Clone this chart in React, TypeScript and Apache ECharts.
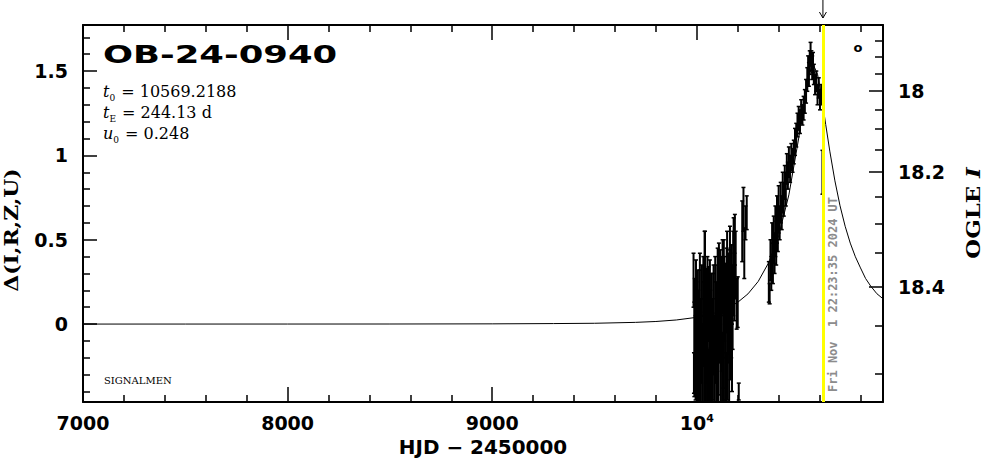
import React, { useEffect, useRef } from 'react';
import * as echarts from 'echarts';

// ---- axis ranges & ticks ----
const xMin = 7000;
const xMax = 10910;
const yMin = -0.462;
const yMax = 1.773;
const xLabelValues = [7000, 8000, 9000, 10000];
const deltaMajorTicks = [0, 0.5, 1, 1.5];
const deltaMinorTicks = [-0.4, -0.3, -0.2, -0.1, 0.1, 0.2, 0.3, 0.4, 0.6, 0.7, 0.8, 0.9, 1.1, 1.2, 1.3, 1.4, 1.6, 1.7];
const magMajorTicks = [18, 18.2, 18.4];
const magMinorTicks = [17.85, 17.9, 17.95, 18.05, 18.1, 18.15, 18.25, 18.3, 18.35, 18.45, 18.5];
// I = magRef - 2.5 log10(fluxSlope * 10^(0.4 Δ) + fluxBlend)
const magRef = 18;
const fluxSlope = 0.1313;
const fluxBlend = 0.5309;

// ---- texts ----
const eventName = 'OB-24-0940';
const t0Text = '10569.2188';
const tEText = '244.13 d';
const u0Text = '0.248';
const nowHJD = 10616.43;
const nowLabel = 'Fri Nov  1 22:23:35 2024 UT';

// ---- model curve (HJD-2450000, Δ) ----
const modelT = [7000, 7500, 8000, 8500, 9000, 9300, 9500, 9700, 9800, 9900, 10000, 10050, 10100, 10150, 10200, 10250, 10300, 10350, 10400, 10450, 10500, 10530, 10550, 10569, 10590, 10610, 10630, 10650, 10675, 10700, 10725, 10750, 10775, 10800, 10825, 10850, 10880, 10910];
const modelD = [0.0, 0.0001, 0.0002, 0.0004, 0.0013, 0.003, 0.0047, 0.0101, 0.0153, 0.0243, 0.04, 0.0526, 0.0699, 0.0941, 0.129, 0.179, 0.2526, 0.3616, 0.524, 0.766, 1.116, 1.359, 1.489, 1.539, 1.481, 1.347, 1.183, 1.025, 0.849, 0.701, 0.58, 0.48, 0.399, 0.333, 0.27, 0.225, 0.18, 0.15];

// ---- OGLE photometry, season 2023 ----
const obsT2023 = [9984, 9986, 9988, 9990, 9994, 9996, 9998, 10000, 10002, 10005, 10007, 10009, 10011, 10013, 10015, 10017, 10019, 10021, 10025, 10027, 10029, 10032, 10034, 10036, 10038, 10040, 10042, 10044, 10046, 10050, 10052, 10054, 10056, 10058, 10062, 10064, 10066, 10068, 10070, 10074, 10076, 10078, 10080, 10082, 10086, 10088, 10090, 10092, 10094, 10098, 10100, 10102, 10104, 10106, 10108, 10110, 10114, 10116, 10118, 10120, 10122, 10126, 10128, 10130, 10132, 10134, 10138, 10140, 10142, 10144, 10146, 10148, 10150, 10152, 10155, 10158, 10160, 10162, 10165, 10168, 10170, 10172, 10175, 10178, 10180, 10184, 10186, 10190, 10195, 10200, 10205, 10222, 10228, 10232, 10238, 10244];
const obsD2023 = [0.26, -0.29, -0.15, 0.05, -0.2, 0.18, -0.05, -0.42, -0.35, 0.1, -0.1, -0.22, -0.45, 0.02, 0.2, -0.4, -0.3, -0.1, 0.15, -0.42, -0.3, 0.12, 0.0, -0.25, 0.31, 0.25, -0.18, -0.42, 0.08, -0.35, 0.15, -0.05, -0.45, 0.12, -0.28, 0.08, -0.08, -0.42, 0.05, -0.4, -0.3, -0.15, 0.0, 0.1, -0.25, -0.45, 0.18, 0.05, -0.05, -0.35, -0.2, 0.2, -0.45, -0.12, 0.18, 0.05, 0.22, -0.4, -0.25, 0.1, 0.0, 0.28, -0.35, -0.08, 0.3, 0.15, -0.3, -0.15, 0.08, -0.42, 0.2, 0.35, -0.15, 0.05, 0.12, -0.3, 0.18, 0.38, -0.05, 0.05, 0.25, -0.2, 0.1, 0.3, 0.4, 0.22, 0.5, 0.35, 0.12, 0.13, -0.4, 0.55, 0.68, 0.42, 0.6, 0.66];
const obsE2023 = [0.16, 0.12, 0.28, 0.22, 0.25, 0.2, 0.3, 0.2, 0.25, 0.22, 0.3, 0.28, 0.25, 0.3, 0.22, 0.25, 0.3, 0.25, 0.2, 0.25, 0.3, 0.28, 0.25, 0.3, 0.24, 0.3, 0.3, 0.25, 0.25, 0.28, 0.25, 0.3, 0.3, 0.22, 0.3, 0.3, 0.28, 0.28, 0.25, 0.25, 0.3, 0.3, 0.3, 0.25, 0.3, 0.3, 0.22, 0.3, 0.3, 0.25, 0.3, 0.25, 0.28, 0.3, 0.3, 0.28, 0.22, 0.3, 0.3, 0.3, 0.28, 0.22, 0.3, 0.3, 0.2, 0.25, 0.25, 0.3, 0.28, 0.25, 0.25, 0.2, 0.3, 0.28, 0.3, 0.25, 0.26, 0.2, 0.28, 0.25, 0.22, 0.2, 0.25, 0.25, 0.23, 0.2, 0.15, 0.2, 0.15, 0.15, 0.05, 0.18, 0.13, 0.15, 0.1, 0.1];

// ---- OGLE photometry, season 2024 ----
const obsT2024 = [10352, 10356, 10360, 10364, 10368, 10372, 10376, 10380, 10384, 10388, 10392, 10396, 10400, 10405, 10410, 10415, 10420, 10425, 10430, 10435, 10440, 10445, 10450, 10456, 10462, 10468, 10474, 10480, 10486, 10492, 10498, 10504, 10510, 10516, 10522, 10528, 10534, 10540, 10544, 10548, 10552, 10556, 10560, 10564, 10568, 10572, 10578, 10584, 10590, 10596, 10602, 10608, 10614];
const obsD2024 = [0.25, 0.18, 0.38, 0.3, 0.45, 0.36, 0.5, 0.42, 0.55, 0.48, 0.62, 0.55, 0.68, 0.6, 0.72, 0.66, 0.78, 0.74, 0.84, 0.8, 0.92, 0.88, 0.96, 0.92, 0.99, 0.97, 1.02, 1.08, 1.12, 1.18, 1.22, 1.2, 1.26, 1.24, 1.28, 1.32, 1.38, 1.45, 1.52, 1.48, 1.55, 1.6, 1.56, 1.52, 1.55, 1.48, 1.42, 1.44, 1.36, 1.4, 1.33, 1.36, 0.9];
const obsE2024 = [0.12, 0.06, 0.12, 0.1, 0.15, 0.12, 0.14, 0.12, 0.15, 0.13, 0.14, 0.12, 0.14, 0.1, 0.12, 0.1, 0.12, 0.1, 0.1, 0.1, 0.09, 0.08, 0.09, 0.08, 0.08, 0.07, 0.07, 0.08, 0.07, 0.07, 0.07, 0.07, 0.07, 0.06, 0.07, 0.07, 0.07, 0.07, 0.07, 0.07, 0.07, 0.07, 0.06, 0.07, 0.06, 0.06, 0.06, 0.06, 0.06, 0.06, 0.06, 0.06, 0.13];

const magToDelta = (m: number) =>
  2.5 * Math.log10((Math.pow(10, -0.4 * (m - magRef)) - fluxBlend) / fluxSlope);

export default function App() {
  const ref = useRef<HTMLDivElement>(null);
  useEffect(() => {
    const el = ref.current;
    if (!el) return;
    const chart = echarts.init(el, null, { renderer: 'svg' });

    const axisLineStyle = { color: '#000', width: 2 };
    const tickStyle = { color: '#000', width: 1.5 };
    const labelFont = { color: '#000', fontFamily: 'DejaVu Sans', fontWeight: 'bold' as const, fontSize: 19 };

    const magMajorDelta = magMajorTicks.map(magToDelta);
    const magMinorDelta = magMinorTicks.map(magToDelta);

    const obsT = obsT2023.concat(obsT2024);
    const obsD = obsD2023.concat(obsD2024);
    const obsE = obsE2023.concat(obsE2024);

    const xAxisBase = {
      type: 'value',
      min: xMin,
      max: xMax,
      interval: 1000,
      axisLine: { show: true, onZero: false, lineStyle: axisLineStyle },
      axisTick: { show: true, inside: true, length: 15, lineStyle: tickStyle },
      minorTick: { show: true, splitNumber: 5, length: 7, lineStyle: tickStyle },
      splitLine: { show: false },
      minorSplitLine: { show: false },
    };
    const yAxisBase = {
      type: 'value',
      min: yMin,
      max: yMax,
      splitLine: { show: false },
      axisLine: { show: false, onZero: false },
    };

    const option: any = {
      animation: false,
      backgroundColor: '#fff',
      grid: { left: 83, right: 103, top: 25, bottom: 57, containLabel: false },
      xAxis: [
        {
          ...xAxisBase,
          position: 'bottom',
          axisLabel: {
            ...labelFont,
            margin: 11,
            showMinLabel: true,
            showMaxLabel: false,
            formatter: (v: number) => {
              if (v === 10000) return '{n|10}{sup|4}';
              return xLabelValues.indexOf(v) >= 0 ? String(v) : '';
            },
            rich: {
              n: { ...labelFont },
              sup: { color: '#000', fontFamily: 'DejaVu Sans', fontWeight: 'bold', fontSize: 11, verticalAlign: 'top' },
            },
          },
        },
        {
          ...xAxisBase,
          position: 'top',
          axisLabel: { show: false },
        },
      ],
      yAxis: [
        {
          ...yAxisBase,
          position: 'left',
          axisLine: { show: true, onZero: false, lineStyle: axisLineStyle },
          axisTick: { show: true, inside: true, length: 14, lineStyle: tickStyle, customValues: deltaMajorTicks },
          axisLabel: { ...labelFont, margin: 15, customValues: deltaMajorTicks, formatter: (v: number) => String(v) },
        },
        {
          ...yAxisBase,
          position: 'left',
          axisTick: { show: true, inside: true, length: 7, lineStyle: tickStyle, customValues: deltaMinorTicks },
          axisLabel: { show: false },
        },
        {
          ...yAxisBase,
          position: 'right',
          axisLine: { show: true, onZero: false, lineStyle: axisLineStyle },
          axisTick: { show: true, inside: true, length: 14, lineStyle: tickStyle, customValues: magMajorDelta },
          axisLabel: {
            ...labelFont,
            margin: 15,
            customValues: magMajorDelta,
            formatter: (v: number) => {
              let best = 0;
              magMajorDelta.forEach((d, i) => {
                if (Math.abs(d - v) < Math.abs(magMajorDelta[best] - v)) best = i;
              });
              return String(magMajorTicks[best]);
            },
          },
        },
        {
          ...yAxisBase,
          position: 'right',
          axisTick: { show: true, inside: true, length: 8, lineStyle: tickStyle, customValues: magMinorDelta },
          axisLabel: { show: false },
        },
      ],
      series: [
        {
          type: 'line',
          name: 'model',
          xAxisIndex: 0,
          yAxisIndex: 0,
          data: modelT.map((t, i) => [t, modelD[i]]),
          showSymbol: false,
          symbol: 'none',
          lineStyle: { color: '#000', width: 1 },
          clip: true,
          silent: true,
          z: 2,
          markLine: {
            silent: true,
            symbol: ['none', 'none'],
            label: { show: false },
            lineStyle: { color: '#ffff00', width: 3, type: 'solid' },
            data: [{ xAxis: nowHJD }],
          },
        },
        {
          type: 'custom',
          name: 'OGLE',
          xAxisIndex: 0,
          yAxisIndex: 0,
          data: obsT.map((t, i) => [t, obsD[i], obsE[i]]),
          encode: { x: 0, y: 1 },
          clip: true,
          silent: true,
          z: 3,
          renderItem: (params: any, api: any) => {
            const t = api.value(0);
            const d = api.value(1);
            const e = api.value(2);
            const top = api.coord([t, d + e]);
            const bot = api.coord([t, d - e]);
            const w = 2;
            return {
              type: 'group',
              children: [
                { type: 'line', shape: { x1: top[0], y1: top[1], x2: bot[0], y2: bot[1] }, style: { stroke: '#000', lineWidth: 2 } },
                { type: 'line', shape: { x1: top[0] - w, y1: top[1], x2: top[0] + w, y2: top[1] }, style: { stroke: '#000', lineWidth: 1.5 } },
                { type: 'line', shape: { x1: bot[0] - w, y1: bot[1], x2: bot[0] + w, y2: bot[1] }, style: { stroke: '#000', lineWidth: 1.5 } },
              ],
            };
          },
        },
      ],
    };

    chart.setOption(option);

    const px = chart.convertToPixel({ xAxisIndex: 0 }, nowHJD) as number;
    const pyBottom = chart.convertToPixel({ yAxisIndex: 0 }, yMin) as number;

    const paramRich = {
      it: { fontFamily: 'DejaVu Serif', fontStyle: 'italic', fontSize: 16, lineHeight: 16, verticalAlign: 'top', fill: '#000' },
      sub: { fontFamily: 'DejaVu Serif', fontSize: 9, lineHeight: 9, padding: [10, 1, 0, 0], verticalAlign: 'top', fill: '#000' },
      n: { fontFamily: 'DejaVu Serif', fontSize: 16, lineHeight: 16, verticalAlign: 'top', fill: '#000' },
    };

    chart.setOption({
      graphic: [
        {
          type: 'text', x: 103, y: 55, scaleX: 1.18, scaleY: 0.82, silent: true,
          style: { text: eventName, fill: '#000', fontFamily: 'DejaVu Sans', fontWeight: 'bold', fontSize: 30, align: 'left', verticalAlign: 'middle' },
        },
        {
          type: 'text', x: 103, y: 91, silent: true,
          style: { text: '{it|t}{sub|0}{n| = ' + t0Text + '}', rich: paramRich, align: 'left', verticalAlign: 'middle' },
        },
        {
          type: 'text', x: 103, y: 112, silent: true,
          style: { text: '{it|t}{sub|E}{n| = ' + tEText + '}', rich: paramRich, align: 'left', verticalAlign: 'middle' },
        },
        {
          type: 'text', x: 103, y: 133, silent: true,
          style: { text: '{it|u}{sub|0}{n| = ' + u0Text + '}', rich: paramRich, align: 'left', verticalAlign: 'middle' },
        },
        {
          type: 'text', x: 104, y: 380, silent: true,
          style: { text: 'SIGNALMEN', fill: '#000', fontFamily: 'DejaVu Serif', fontSize: 10, align: 'left', verticalAlign: 'middle' },
        },
        {
          type: 'text', x: 858, y: 47, silent: true,
          style: { text: 'o', fill: '#000', fontFamily: 'DejaVu Sans', fontWeight: 'bold', fontSize: 13, align: 'center', verticalAlign: 'middle' },
        },
        {
          type: 'text', x: 12, y: 230, rotation: Math.PI / 2, scaleX: 1.15, silent: true,
          style: { text: 'Δ(I,R,Z,U)', fill: '#000', fontFamily: 'DejaVu Serif', fontWeight: 'bold', fontSize: 19, align: 'center', verticalAlign: 'middle' },
        },
        {
          type: 'text', x: 973, y: 213, rotation: Math.PI / 2, scaleX: 1.2, silent: true,
          style: {
            text: '{n|OGLE }{i|I}',
            align: 'center', verticalAlign: 'middle',
            rich: {
              n: { fontFamily: 'DejaVu Serif', fontWeight: 'bold', fontSize: 19, lineHeight: 19, fill: '#000' },
              i: { fontFamily: 'DejaVu Serif', fontWeight: 'bold', fontStyle: 'italic', fontSize: 19, lineHeight: 19, fill: '#000' },
            },
          },
        },
        {
          type: 'text', x: 483, y: 448, scaleX: 1.05, silent: true,
          style: { text: 'HJD − 2450000', fill: '#000', fontFamily: 'DejaVu Sans', fontWeight: 'bold', fontSize: 19, align: 'center', verticalAlign: 'middle' },
        },
        {
          type: 'text', x: px + 10, y: pyBottom - 10, rotation: Math.PI / 2, silent: true,
          style: { text: nowLabel, fill: '#8c8c8c', fontFamily: 'DejaVu Sans Mono', fontWeight: 'bold', fontSize: 12, align: 'left', verticalAlign: 'middle' },
        },
        {
          type: 'line', silent: true,
          shape: { x1: px, y1: 0, x2: px, y2: 18 },
          style: { stroke: '#000', lineWidth: 1 },
        },
        {
          type: 'polyline', silent: true,
          shape: { points: [[px - 3.5, 12], [px, 18], [px + 3.5, 12]] },
          style: { stroke: '#000', lineWidth: 1, fill: 'none' },
        },
      ],
    });

    return () => chart.dispose();
  }, []);

  return (
    <div
      ref={ref}
      style={{ position: 'fixed', left: 0, top: 0, width: 986, height: 459, background: '#fff' }}
    />
  );
}
